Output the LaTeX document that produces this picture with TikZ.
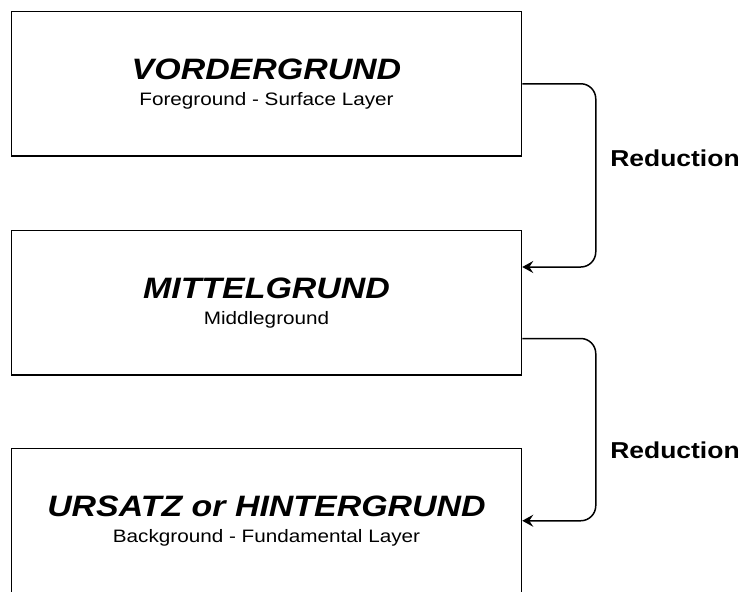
\documentclass[tikz,border=0pt]{standalone}
\usepackage{fontspec}
\setmainfont{Liberation Sans}[FakeStretch=1.15]
\usetikzlibrary{arrows.meta}

\begin{document}
\begin{tikzpicture}[x=1pt, y=-1pt, >={Stealth[length=11pt, width=12pt, inset=4pt]}, line width=1.5pt]

    \tikzstyle{layer}=[draw=black, fill=white, minimum width=510pt, minimum height=144.5pt, inner sep=0pt]
    \tikzstyle{title}=[anchor=base, inner sep=0pt, font=\fontsize{29.5}{31}\selectfont\bfseries\itshape]
    \tikzstyle{sub}=[anchor=base, inner sep=0pt, font=\fontsize{18}{20}\selectfont]
    \tikzstyle{reduce}=[->, rounded corners=15pt]
    \tikzstyle{lbl}=[inner sep=0pt, font=\fontsize{23}{25}\selectfont\bfseries]

    \useasboundingbox (0,0) rectangle (745,592);

    \node[layer] (vg) at (266.5,83.75)  {};
    \node[layer] (mg) at (266.5,302.5)  {};
    \node[layer] (ug) at (266.5,520.75) {};

    \node[title] (vgT) at ([yshift=4.5pt]vg.center) {VORDERGRUND};
    \node[sub]   (vgS) at ([yshift=-22pt]vg.center) {Foreground - Surface Layer};
    \node[title] (mgT) at ([yshift=4.5pt]mg.center) {MITTELGRUND};
    \node[sub]   (mgS) at ([yshift=-22pt]mg.center) {Middleground};
    \node[title] (ugT) at ([yshift=4.5pt]ug.center) {URSATZ or HINTERGRUND};
    \node[sub]   (ugS) at ([yshift=-22pt]ug.center) {Background - Fundamental Layer};

    \draw[reduce] (vg.east) -- ++(73.5,0) |- ([yshift=35.5pt]mg.east);
    \draw[reduce] ([yshift=-36pt]mg.east) -- ++(73.5,0) |- (ug.east);

    \node[lbl] (red1) at (675,158) {Reduction};
    \node[lbl] (red2) at (675,450) {Reduction};
\end{tikzpicture}
\end{document}
